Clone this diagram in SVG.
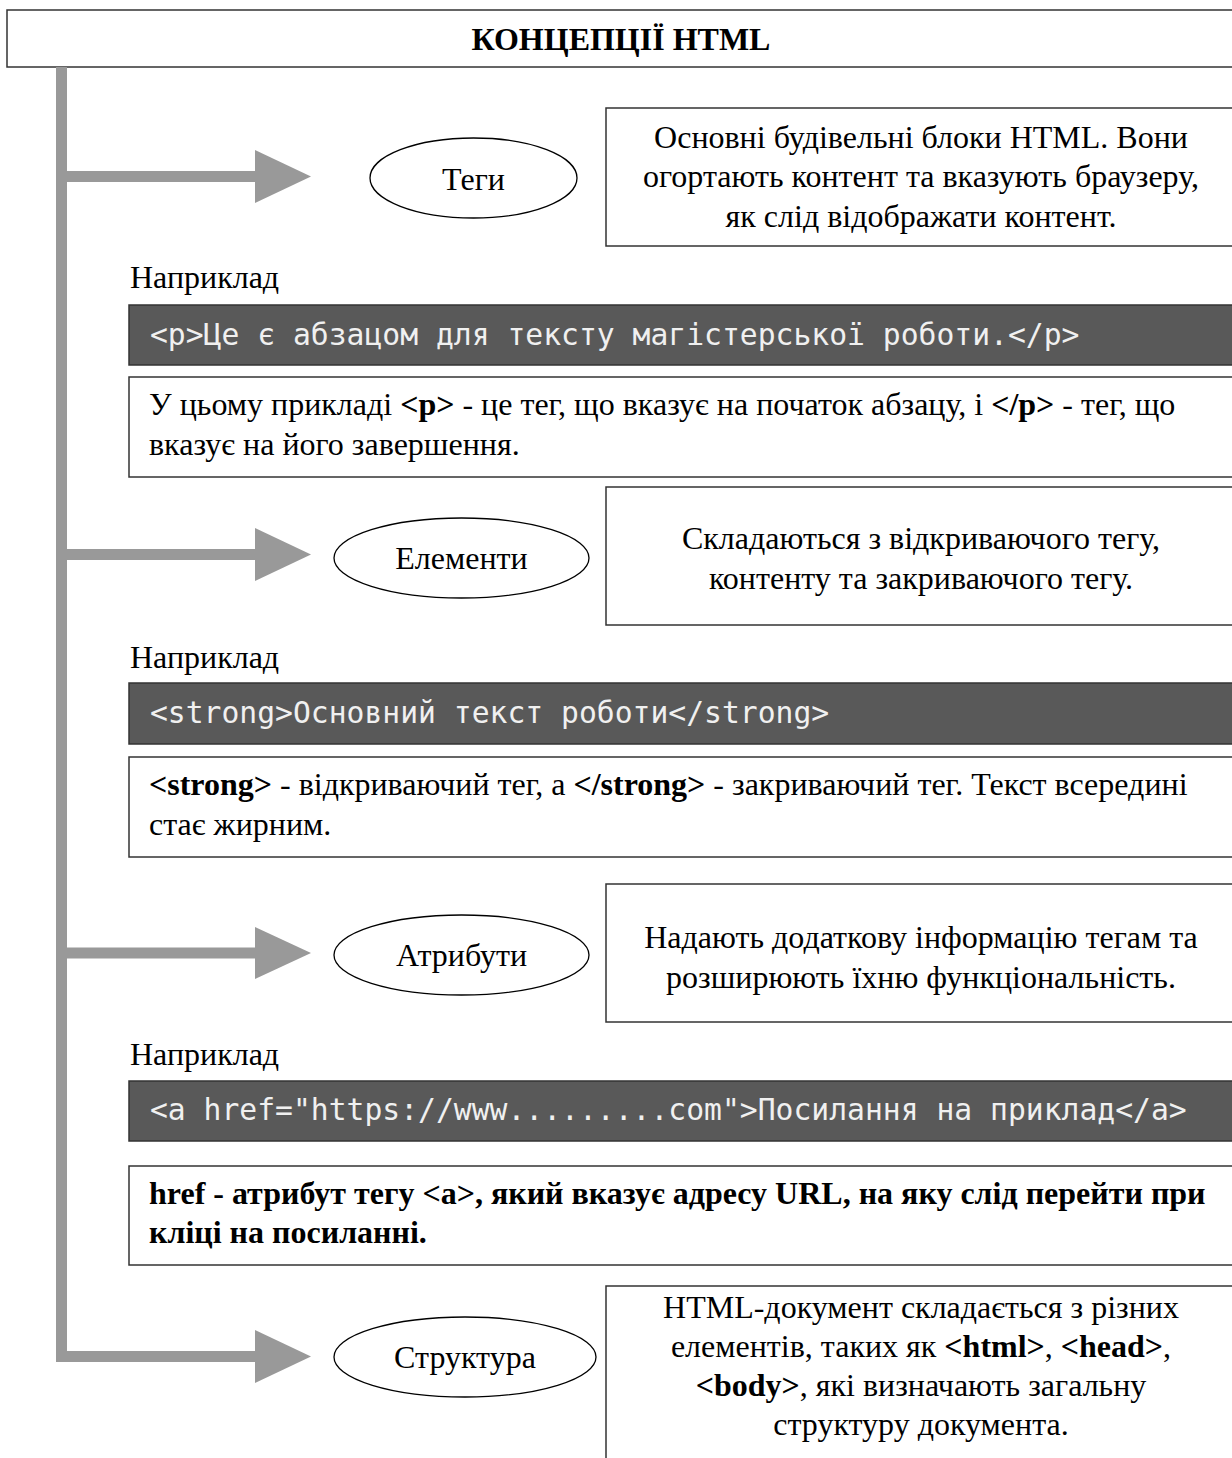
<svg xmlns="http://www.w3.org/2000/svg" width="1232" height="1458" viewBox="0 0 1232 1458">
<style>
  .t { font-family: "Liberation Serif", "Times New Roman", serif; font-size: 32px; fill: #000; }
  .b { font-weight: bold; }
  .c { text-anchor: middle; }
  .box { fill: #fff; stroke: #333; stroke-width: 1.5; }
  .code { fill: #595959; stroke: #333; stroke-width: 1.5; }
  .mono { font-family: "DejaVu Sans Mono", monospace; font-size: 29.7px; fill: #f0f0f0; }
  .ell { fill: #fff; stroke: #000; stroke-width: 1.3; }
  .conn { fill: #999999; }
</style>
<rect width="1232" height="1458" fill="#fff"/>

<g id="header">
  <rect class="box" x="7" y="10" width="1240" height="57"/>
  <text class="t b c" x="621" y="50">КОНЦЕПЦІЇ HTML</text>
</g>

<g id="connectors">
  <rect class="conn" x="56" y="67" width="11" height="1295"/>
  <rect class="conn" x="56" y="171" width="200" height="11"/>
  <polygon class="conn" points="255,150 311,176.5 255,203"/>
  <rect class="conn" x="56" y="549" width="200" height="11"/>
  <polygon class="conn" points="255,528 311,554.5 255,581"/>
  <rect class="conn" x="56" y="947.5" width="200" height="11"/>
  <polygon class="conn" points="255,927 311,953 255,979"/>
  <rect class="conn" x="56" y="1351" width="200" height="11"/>
  <polygon class="conn" points="255,1330 311,1356.5 255,1383"/>
</g>

<g id="node-tegy">
  <ellipse class="ell" cx="473.5" cy="178" rx="103.5" ry="40"/>
  <text class="t c" x="473.5" y="190">Теги</text>
</g>
<g id="desc-tegy">
  <rect class="box" x="606" y="108" width="640" height="138"/>
  <text class="t c" x="921" y="148">Основні будівельні блоки HTML. Вони</text>
  <text class="t c" x="921" y="187">огортають контент та вказують браузеру,</text>
  <text class="t c" x="921" y="227">як слід відображати контент.</text>
</g>
<g id="example-1">
  <text class="t" x="130" y="288">Наприклад</text>
  <rect class="code" x="129" y="305" width="1120" height="60"/>
  <text class="mono" x="150" y="345">&lt;p&gt;Це є абзацом для тексту магістерської роботи.&lt;/p&gt;</text>
  <rect class="box" x="129" y="377" width="1120" height="100"/>
  <text class="t" x="149" y="415">У цьому прикладі <tspan class="b">&lt;p&gt;</tspan> - це тег, що вказує на початок абзацу, і <tspan class="b">&lt;/p&gt;</tspan> - тег, що</text>
  <text class="t" x="149" y="455">вказує на його завершення.</text>
</g>

<g id="node-elementy">
  <ellipse class="ell" cx="461.5" cy="558" rx="127.5" ry="40"/>
  <text class="t c" x="461.5" y="569">Елементи</text>
</g>
<g id="desc-elementy">
  <rect class="box" x="606" y="487" width="640" height="138"/>
  <text class="t c" x="921" y="549">Складаються з відкриваючого тегу,</text>
  <text class="t c" x="921" y="589">контенту та закриваючого тегу.</text>
</g>
<g id="example-2">
  <text class="t" x="130" y="668">Наприклад</text>
  <rect class="code" x="129" y="683" width="1120" height="61"/>
  <text class="mono" x="150" y="723">&lt;strong&gt;Основний текст роботи&lt;/strong&gt;</text>
  <rect class="box" x="129" y="757" width="1120" height="100"/>
  <text class="t" x="149" y="795"><tspan class="b">&lt;strong&gt;</tspan> - відкриваючий тег, а <tspan class="b">&lt;/strong&gt;</tspan> - закриваючий тег. Текст всередині</text>
  <text class="t" x="149" y="835">стає жирним.</text>
</g>

<g id="node-atrybuty">
  <ellipse class="ell" cx="461.5" cy="955" rx="127.5" ry="40"/>
  <text class="t c" x="461.5" y="966">Атрибути</text>
</g>
<g id="desc-atrybuty">
  <rect class="box" x="606" y="884" width="640" height="138"/>
  <text class="t c" x="921" y="948">Надають додаткову інформацію тегам та</text>
  <text class="t c" x="921" y="988">розширюють їхню функціональність.</text>
</g>
<g id="example-3">
  <text class="t" x="130" y="1065">Наприклад</text>
  <rect class="code" x="129" y="1081" width="1120" height="60"/>
  <text class="mono" x="150" y="1120">&lt;a href="https://www.........com"&gt;Посилання на приклад&lt;/a&gt;</text>
  <rect class="box" x="129" y="1166" width="1120" height="99"/>
  <text class="t b" x="149" y="1204">href - атрибут тегу &lt;a&gt;, який вказує адресу URL, на яку слід перейти при</text>
  <text class="t b" x="149" y="1243">кліці на посиланні.</text>
</g>

<g id="node-struktura">
  <ellipse class="ell" cx="465" cy="1357" rx="131" ry="40"/>
  <text class="t c" x="465" y="1368">Структура</text>
</g>
<g id="desc-struktura">
  <rect class="box" x="606" y="1286" width="640" height="200"/>
  <text class="t c" x="921" y="1318">HTML-документ складається з різних</text>
  <text class="t c" x="921" y="1357">елементів, таких як <tspan class="b">&lt;html&gt;</tspan>, <tspan class="b">&lt;head&gt;</tspan>,</text>
  <text class="t c" x="921" y="1396"><tspan class="b">&lt;body&gt;</tspan>, які визначають загальну</text>
  <text class="t c" x="921" y="1435">структуру документа.</text>
</g>
</svg>
